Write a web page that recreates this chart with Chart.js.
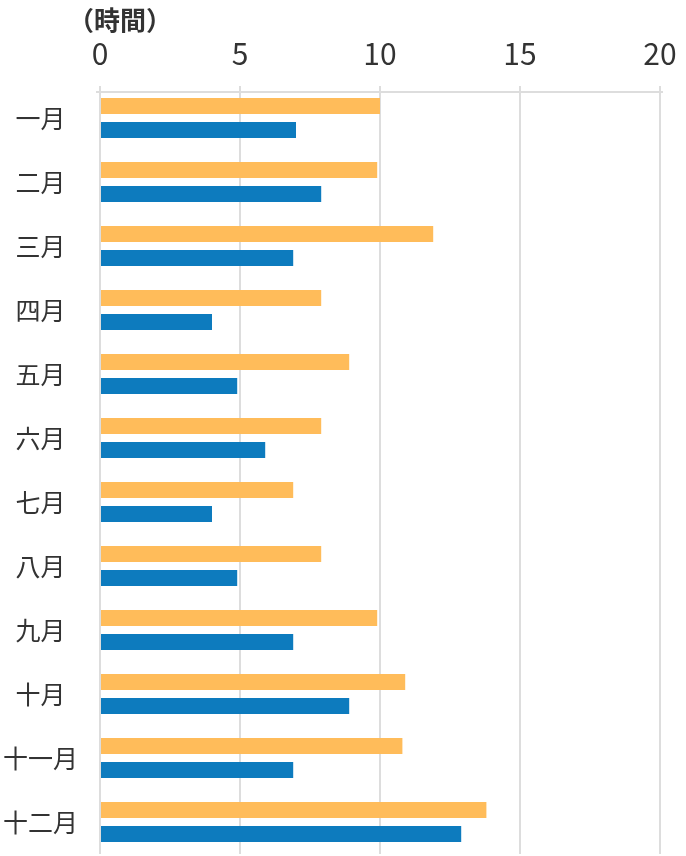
<!DOCTYPE html>
<html>
<head>
<meta charset="utf-8">
<script src="https://cdn.jsdelivr.net/npm/chart.js@4/dist/chart.umd.min.js"></script>
<style>
  html, body { margin: 0; padding: 0; background: #fff; }
  #wrap { width: 686px; height: 856px; position: relative; }
</style>
</head>
<body>
<div id="wrap"><canvas id="hoursChart"></canvas></div>
<script>
// data
const months = ["一月", "二月", "三月", "四月", "五月", "六月", "七月", "八月", "九月", "十月", "十一月", "十二月"];
const seriesA = [10, 9.9, 11.9, 7.9, 8.9, 7.9, 6.9, 7.9, 9.9, 10.9, 10.8, 13.8];
const seriesB = [7, 7.9, 6.9, 4, 4.9, 5.9, 4, 4.9, 6.9, 8.9, 6.9, 12.9];
const xTicks = [0, 5, 10, 15, 20];
const axisTitle = "（時間）";

const FONT = "'Noto Sans CJK JP', 'Noto Sans', sans-serif";

// drop the extra label padding chart.js adds round the plot
function noPad(scale) {
    scale.paddingTop = 0;
    scale.paddingBottom = 0;
    scale.paddingLeft = 0;
    scale.paddingRight = 0;
}

// top axis line + title text
const decorPlugin = {
    id: "decor",
    afterDraw(chart) {
        const ctx = chart.ctx;
        const area = chart.chartArea;
        ctx.save();
        ctx.strokeStyle = "#dddddd";
        ctx.lineWidth = 2;
        ctx.beginPath();
        ctx.moveTo(area.left - 4, area.top + 6);
        ctx.lineTo(area.right + 3, area.top + 6);
        ctx.stroke();

        ctx.fillStyle = "#333333";
        ctx.font = "bold 26px " + FONT;
        ctx.textAlign = "center";
        ctx.textBaseline = "middle";
        ctx.fillText(axisTitle, 120, 20);
        ctx.restore();
    }
};

const ctx = document.getElementById("hoursChart").getContext("2d");
new Chart(ctx, {
    type: "bar",
    data: {
        labels: months,
        datasets: [
            {
                data: seriesA,
                backgroundColor: "#FFBC5A",
                borderWidth: 0,
                categoryPercentage: 0.75,
                barPercentage: 0.667
            },
            {
                data: seriesB,
                backgroundColor: "#0D7BBE",
                borderWidth: 0,
                categoryPercentage: 0.75,
                barPercentage: 0.667
            }
        ]
    },
    options: {
        indexAxis: "y",
        responsive: true,
        maintainAspectRatio: false,
        animation: false,
        layout: {
            padding: { top: 39, right: 26, bottom: 2, left: 3 }
        },
        plugins: {
            legend: { display: false },
            tooltip: { enabled: false }
        },
        scales: {
            x: {
                position: "top",
                min: 0,
                max: 20,
                afterBuildTicks(scale) {
                    scale.ticks = xTicks.map(v => ({ value: v }));
                },
                afterFit(scale) {
                    scale.height = 47;
                    noPad(scale);
                },
                grid: {
                    color: "#dddddd",
                    lineWidth: 2,
                    drawTicks: false
                },
                border: { display: false },
                ticks: {
                    padding: 14,
                    color: "#333333",
                    font: { family: FONT, size: 30 }
                }
            },
            y: {
                afterFit(scale) {
                    scale.width = 97;
                    noPad(scale);
                },
                grid: { display: false, drawTicks: false },
                border: { display: false },
                ticks: {
                    crossAlign: "center",
                    padding: 22,
                    color: "#333333",
                    font: { family: FONT, size: 25 }
                }
            }
        }
    },
    plugins: [decorPlugin]
});
</script>
</body>
</html>
